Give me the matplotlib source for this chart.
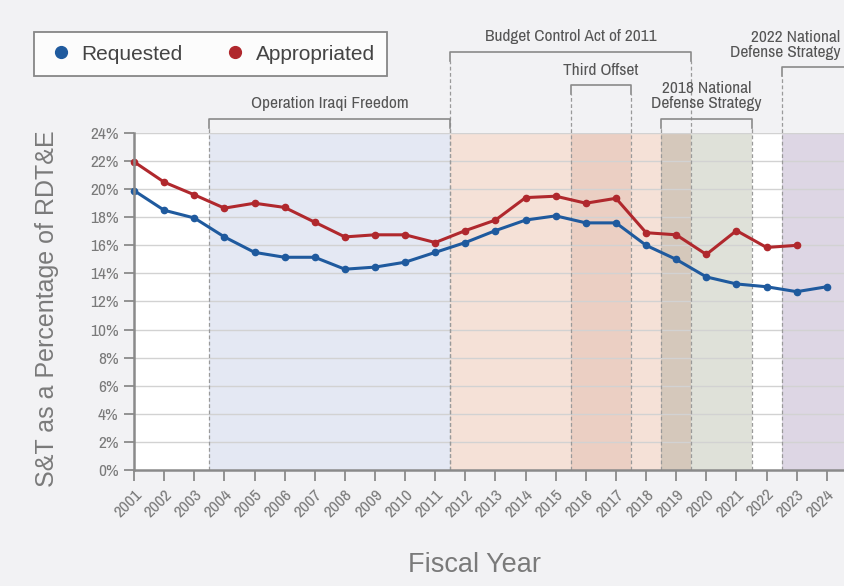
import matplotlib.pyplot as plt
from matplotlib.lines import Line2D
import matplotlib.transforms as mtransforms
from matplotlib import font_manager

years = list(range(2001, 2025))
requested = [19.9, 18.5, 17.95, 16.6, 15.5, 15.15, 15.15, 14.3, 14.45, 14.8, 15.5,
             16.2, 17.05, 17.8, 18.1, 17.6, 17.6, 16.0, 15.0, 13.75, 13.25, 13.05, 12.7, 13.05]
appr_years = list(range(2001, 2024))
appropriated = [21.95, 20.5, 19.6, 18.65, 19.0, 18.7, 17.65, 16.6, 16.75, 16.75, 16.2,
                17.05, 17.8, 19.4, 19.5, 19.0, 19.35, 16.9, 16.75, 15.35, 17.05, 15.85, 16.0]

# shaded periods: (start, end, colour)
shades = [(2003.5, 2011.5, '#e4e8f3'),
          (2011.5, 2015.5, '#f5e1d7'),
          (2015.5, 2017.5, '#ebcfc3'),
          (2017.5, 2018.5, '#f5e1d7'),
          (2018.5, 2019.5, '#d5c8bb'),
          (2019.5, 2021.5, '#dfe1d9'),
          (2022.5, 2025.0, '#ddd6e4')]

# brackets: label, start, end, bracket height (axes fraction)
events = [("Operation Iraqi Freedom", 2003.5, 2011.5, 1.042),
          ("Budget Control Act of 2011", 2011.5, 2019.5, 1.241),
          ("Third Offset", 2015.5, 2017.5, 1.142),
          ("2018 National\nDefense Strategy", 2018.5, 2021.5, 1.042),
          ("2022 National\nDefense Strategy", 2022.5, 2025.0, 1.196)]

gray = '#7a7a7a'
blue = '#1f5a9e'
red = '#b0282d'

names = sorted({f.name for f in font_manager.fontManager.ttflist})
narrow = [n for n in names if 'Narrow' in n or 'Condensed' in n] + ['DejaVu Sans']

fig = plt.figure(figsize=(8.44, 5.86), dpi=100, facecolor='#f2f2f4')
ax = fig.add_axes([0.1588, 0.198, 0.8412, 0.575])
ax.set_facecolor('white')

for a, b, c in shades:
    ax.axvspan(a, b, color=c, lw=0, zorder=0)

for y in range(2, 25, 2):
    ax.axhline(y, color='#d2d2d2', lw=1, zorder=1)

ax.plot(years, requested, color=blue, lw=2.2, marker='o', ms=4.5, zorder=4, clip_on=False)
ax.plot(appr_years, appropriated, color=red, lw=2.2, marker='o', ms=4.5, zorder=4, clip_on=False)

trans = mtransforms.blended_transform_factory(ax.transData, ax.transAxes)
leg_len = 9 / 337.0
for label, a, b, h in events:
    ax.plot([a, a, b, b], [h - leg_len, h, h, h - leg_len], color='#8a8a8a', lw=1.2,
            transform=trans, clip_on=False, zorder=5)
    for xv in (a, b):
        if xv < 2024.6:
            ax.plot([xv, xv], [0, h - leg_len], color='#9a9a9a', lw=0.9, ls=(0, (3, 2)),
                    transform=trans, clip_on=False, zorder=2)
    if label.startswith("2022"):
        ax.text(2024.45, h + 0.022, label, transform=trans, ha='right', va='bottom',
                fontsize=12.5, color='#555555', family=narrow, stretch='condensed',
                linespacing=1.0)
    else:
        ax.text((a + b) / 2, h + 0.022, label, transform=trans, ha='center', va='bottom',
                fontsize=12.5, color='#555555', family=narrow, stretch='condensed',
                linespacing=1.0)

ax.set_xlim(2001, 2024.57)
ax.set_ylim(0, 24)
ax.set_yticks(range(0, 25, 2))
ax.set_yticklabels([f"{v}%" for v in range(0, 25, 2)], fontsize=12.5, color=gray, family=narrow,
                   stretch='condensed')
ax.set_xticks(years)
ax.set_xticklabels([str(y) for y in years], rotation=45, ha='right', rotation_mode='anchor',
                   fontsize=12.5, color=gray, family=narrow, stretch='condensed')
ax.tick_params(axis='y', length=7, width=1.3, color='#8a8a8a', pad=4)
ax.tick_params(axis='x', length=8, width=1.3, color='#8a8a8a', pad=4)
for s in ('top', 'right'):
    ax.spines[s].set_visible(False)
for s in ('left', 'bottom'):
    ax.spines[s].set_color('#8a8a8a')
    ax.spines[s].set_linewidth(1.8)
    ax.spines[s].set_zorder(6)

ax.set_ylabel("S&T as a Percentage of RDT&E", fontsize=18, color=gray,
              family='Liberation Sans')
ax.yaxis.set_label_coords(-0.106, 0.478)
ax.set_xlabel("Fiscal Year", fontsize=19.5, color=gray, family='Liberation Sans')
ax.xaxis.set_label_coords(0.479, -0.244)

handles = [Line2D([], [], ls='none', marker='o', ms=8.5, color=blue),
           Line2D([], [], ls='none', marker='o', ms=8.5, color=red)]
leg = fig.legend(handles, ["Requested", "Appropriated"], loc='upper left',
                 bbox_to_anchor=(0.040, 0.945), ncol=2, frameon=True, fancybox=False,
                 prop={'family': 'Liberation Sans', 'size': 15}, handletextpad=0.3,
                 columnspacing=1.8, borderpad=0.6, handlelength=1.4,
                 borderaxespad=0)
leg.get_frame().set_edgecolor('#6a6a6a')
leg.get_frame().set_linewidth(1.3)
for t in leg.get_texts():
    t.set_color('#444444')

fig.savefig('out.png', dpi=100, facecolor=fig.get_facecolor())
